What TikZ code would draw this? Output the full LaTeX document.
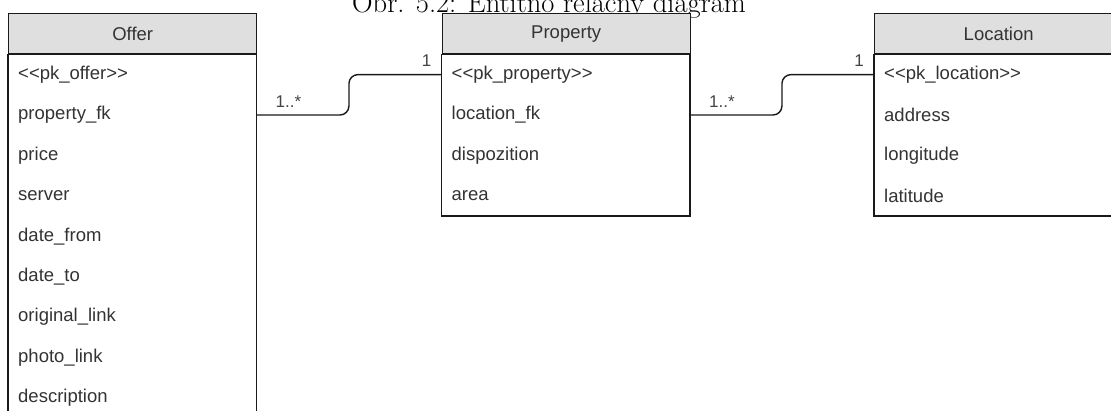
\documentclass[tikz,border=0pt]{standalone}
\usepackage{fontspec}
\newfontfamily\arialfont{Liberation Sans}
\usetikzlibrary{calc}
\definecolor{hdrgray}{HTML}{DFDFDF}
\definecolor{txtc}{HTML}{333333}
\definecolor{linec}{HTML}{1A1A1A}
\definecolor{lblc}{HTML}{444444}
\begin{document}
\begin{tikzpicture}[x=1pt,y=-1pt,
  hdr/.style={draw=linec, line width=1.4pt, fill=hdrgray, minimum width=248pt, minimum height=40pt,
    inner sep=0pt, font=\arialfont\fontsize{18.5}{20}\selectfont, text=txtc, anchor=north west},
  row/.style={minimum width=248pt, minimum height=40pt, inner xsep=10pt, inner ysep=0pt,
    text width=228pt, align=left, font=\arialfont\fontsize{18.5}{20}\selectfont, text=txtc, anchor=north west},
  boxline/.style={draw=linec, line width=1.4pt},
  conn/.style={draw=linec, line width=1.4pt, rounded corners=9pt},
  lbl/.style={font=\arialfont\fontsize{17}{18}\selectfont, text=lblc, inner sep=0pt}
]
\useasboundingbox (0,0) rectangle (1111,410);
\clip (0,0) rectangle (1111,410);
\fill[white] (0,0) rectangle (1111,410);

\node[anchor=base west, font=\fontsize{28.5}{30}\selectfont, inner sep=0pt] (title) at (352,12) {Obr. 5.2: Entitno relačný diagram};

% Offer
\node[hdr] (o0) at (8,13) {Offer};
\node[row] (o1) at (o0.south west) {<{}<pk\_offer>{}>};
\node[row] (o2) at (o1.south west) {property\_fk};
\node[row] (o3) at (o2.south west) {price};
\node[row] (o4) at (o3.south west) {server};
\node[row] (o5) at (o4.south west) {date\_from};
\node[row] (o6) at (o5.south west) {date\_to};
\node[row] (o7) at (o6.south west) {original\_link};
\node[row] (o8) at (o7.south west) {photo\_link};
\node[row] (o9) at (o8.south west) {description};
\draw[boxline] (o1.north west) rectangle (o9.south east);

% Property
\node[hdr] (p0) at (441.5,13) {Property};
\node[row] (p1) at (p0.south west) {<{}<pk\_property>{}>};
\node[row] (p2) at (p1.south west) {location\_fk};
\node[row] (p3) at (p2.south west) {dispozition};
\node[row] (p4) at (p3.south west) {area};
\draw[boxline] (p1.north west) rectangle (p4.south east);

% Location
\node[hdr] (l0) at (874,13) {Location};
\node[row] (l1) at (l0.south west) {<{}<pk\_location>{}>};
\node[row] (l2) at (l1.south west) {address};
\node[row] (l3) at (l2.south west) {longitude};
\node[row] (l4) at (l3.south west) {latitude};
\draw[boxline] (l1.north west) rectangle (l4.south east);

% connectors
\draw[conn] (o2.east) -| ($(o2.east)!0.5!(p1.west)$) |- (p1.west);
\draw[conn] (p2.east) -| ($(p2.east)!0.5!(l1.west)$) |- (l1.west);

% multiplicities
\node[lbl, anchor=base west] (m1) at ($(o2.east)+(19pt,8pt)$) {1..*};
\node[lbl, anchor=base east] (m2) at ($(p1.west)+(-10pt,8pt)$) {1};
\node[lbl, anchor=base west] (m3) at ($(p2.east)+(19pt,8pt)$) {1..*};
\node[lbl, anchor=base east] (m4) at ($(l1.west)+(-10pt,8pt)$) {1};
\end{tikzpicture}
\end{document}
